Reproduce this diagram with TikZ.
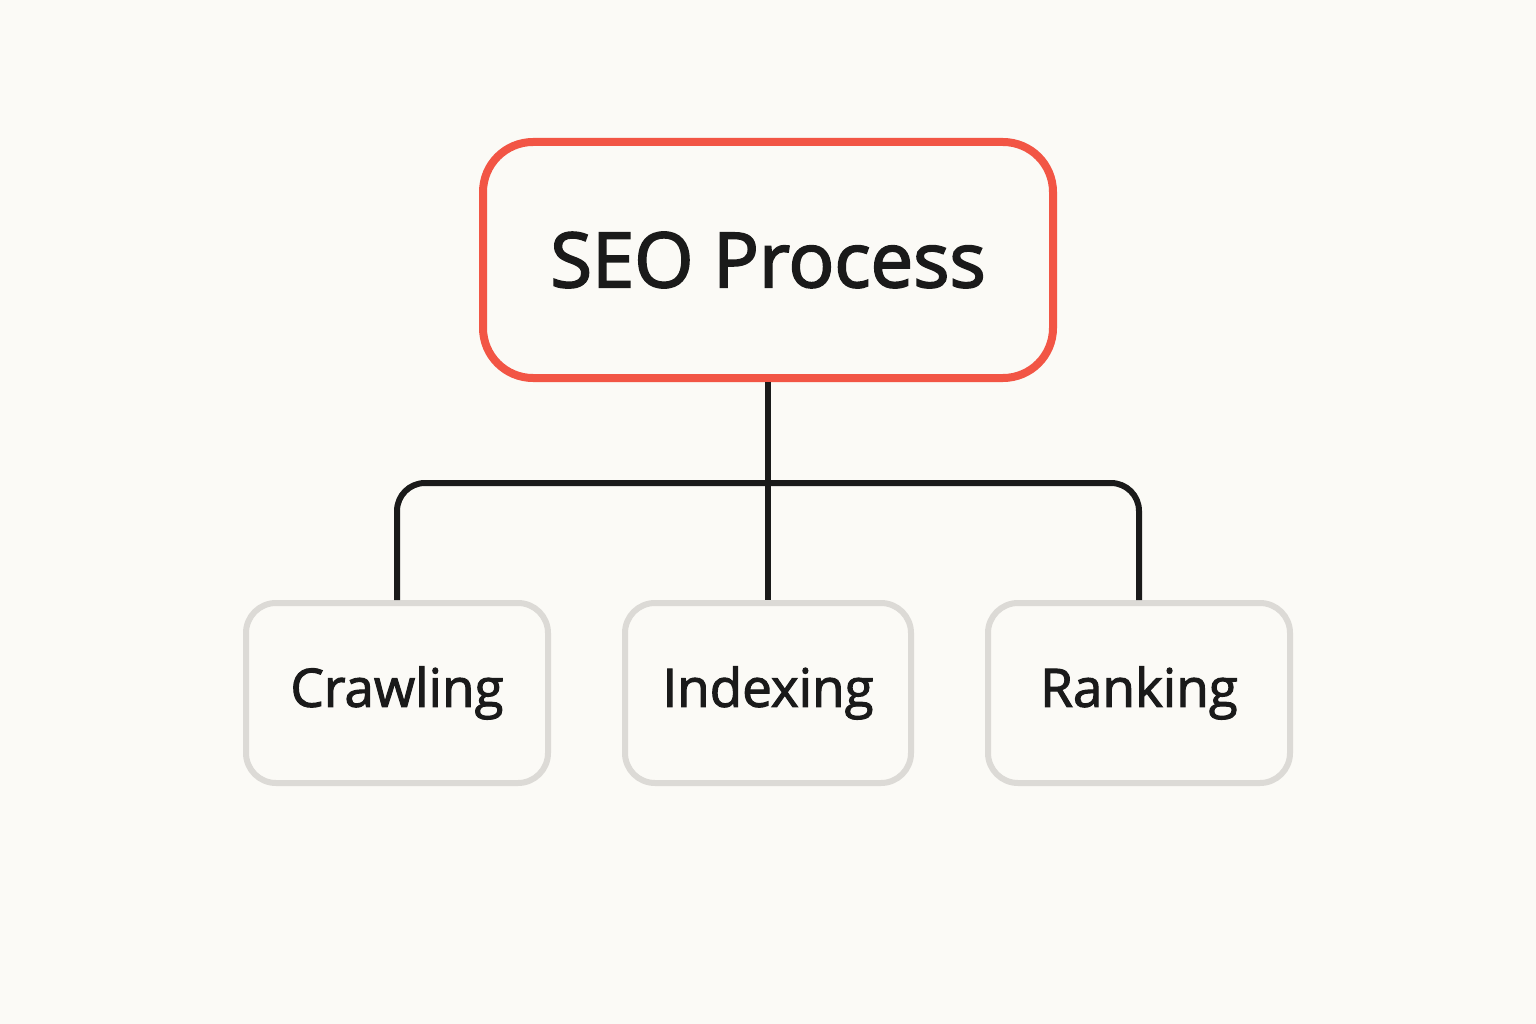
\documentclass[tikz,border=0pt]{standalone}
\usepackage{fontspec}
\setmainfont{Open Sans}
\definecolor{bg}{HTML}{FBFAF6}
\definecolor{redc}{HTML}{F25545}
\definecolor{grayc}{HTML}{DCDAD6}
\definecolor{ink}{HTML}{1A1A1A}
\begin{document}
\begin{tikzpicture}[x=1pt,y=-1pt,
  main/.style={draw=redc,line width=8pt,rounded corners=50pt,fill=bg,minimum width=570pt,minimum height=236pt,font=\fontsize{76}{80}\selectfont\addfontfeature{FakeBold=2.5},text=ink},
  child/.style={draw=grayc,line width=6pt,rounded corners=30pt,fill=bg,minimum height=180pt,font=\fontsize{53}{60}\selectfont\addfontfeature{FakeBold=2},text=ink},
  conn/.style={draw=ink,line width=6pt}]
\fill[bg] (0,0) rectangle (1536,1024);
\useasboundingbox (0,0) rectangle (1536,1024);
\node[main] (top) at (768,260) {SEO Process};
\node[child,minimum width=302pt] (c1) at (397,693) {\raisebox{-6pt}{Crawling}};
\node[child,minimum width=286pt] (c2) at (768,693) {\raisebox{-6pt}{Indexing}};
\node[child,minimum width=302pt] (c3) at (1139,693) {\raisebox{-6pt}{Ranking}};
\coordinate (j) at (768,483);
\draw[conn,rounded corners=28pt] (c1.north) |- (j) -| (c3.north);
\draw[conn] (top.south) -- (c2.north);
\end{tikzpicture}
\end{document}
